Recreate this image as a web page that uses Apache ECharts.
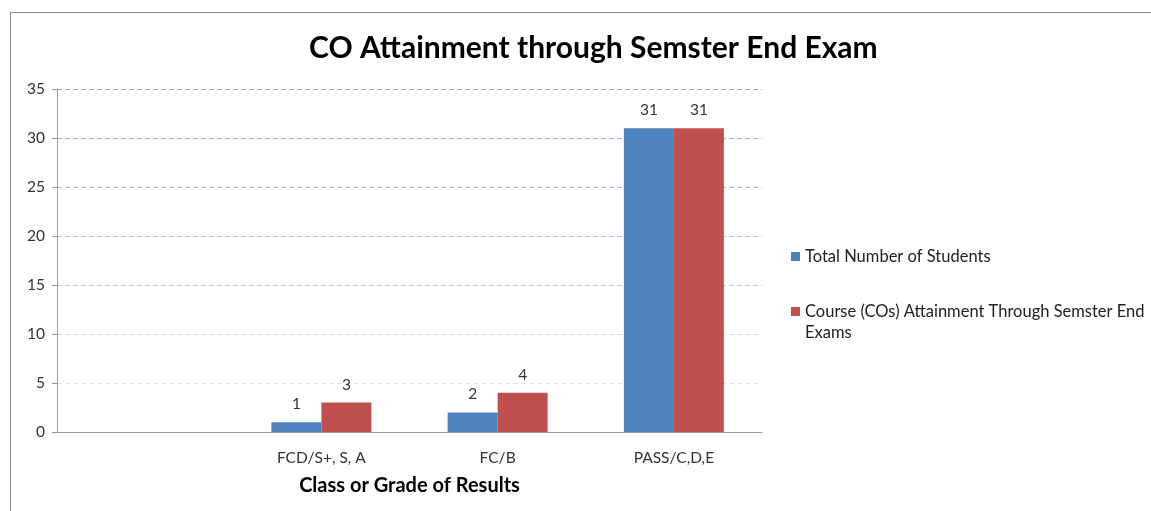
<!DOCTYPE html>
<html>
<head>
    <meta charset="utf-8">
    <title>CO Attainment</title>
    <script src="https://cdn.jsdelivr.net/npm/echarts@6/dist/echarts.min.js"></script>
    <style>
        html, body { margin: 0; padding: 0; background: #fff; }
        #frame { position: absolute; left: 10px; top: 12px; width: 1160px; height: 520px; border: 1px solid #8c8c8c; pointer-events: none; }
    </style>
</head>
<body>
    <div id="main" style="width: 1151px;height:511px;"></div>
    <div id="frame"></div>
    <script type="text/javascript">
        // chart data
        var categories = ['', 'FCD/S+, S, A', 'FC/B', 'PASS/C,D,E'];
        var totalStudents = ['-', 1, 2, 31];
        var coAttainment = ['-', 3, 4, 31];
        var seriesNames = ['Total Number of Students', 'Course (COs) Attainment Through Semster End Exams'];
        var yMin = 0, yMax = 35, yStep = 5;

        var font = 'Lato, "Open Sans", sans-serif';
        var myChart = echarts.init(document.getElementById('main'));

        var option = {
            animation: false,
            textStyle: { fontFamily: font },
            title: {
                text: 'CO Attainment through Semster End Exam',
                left: 304,
                top: 28,
                textStyle: { fontSize: 30, fontWeight: 'bold', color: '#000', fontFamily: font }
            },
            legend: {
                orient: 'vertical',
                left: 786,
                top: 241,
                itemGap: 13,
                itemWidth: 9,
                itemHeight: 9,
                icon: 'rect',
                data: seriesNames,
                formatter: function (name) {
                    // wrapped entry: a blank first line keeps the icon level with "Course..."
                    return name === seriesNames[1] ? '\nCourse (COs) Attainment Through Semster End\nExams' : name;
                },
                textStyle: { fontSize: 16.5, color: '#222', lineHeight: 21 }
            },
            grid: {
                left: 57,
                right: 389,
                top: 89,
                bottom: 79
            },
            xAxis: {
                type: 'category',
                data: categories,
                name: 'Class or Grade of Results',
                nameLocation: 'middle',
                nameGap: 44,
                nameTextStyle: { fontSize: 20, fontWeight: 'bold', color: '#000' },
                axisLine: { lineStyle: { color: '#9a9a9a' } },
                axisTick: { show: false },
                axisLabel: { fontSize: 15.5, color: '#333', margin: 18 }
            },
            yAxis: {
                type: 'value',
                min: yMin,
                max: yMax,
                interval: yStep,
                axisLine: { show: true, lineStyle: { color: '#9a9a9a' } },
                axisTick: { show: true, length: 5, lineStyle: { color: '#9a9a9a' } },
                axisLabel: { fontSize: 15.5, color: '#333', margin: 12 },
                splitLine: {
                    lineStyle: {
                        type: [5, 3],
                        color: ['#e3e9f5', '#dce3f3', '#d0daef', '#c2cfeb', '#b3c4e6', '#a5b9e1', '#98afdd', '#8aa4d8']
                    }
                }
            },
            series: [
                {
                    name: seriesNames[0],
                    type: 'bar',
                    data: totalStudents,
                    barGap: '0%',
                    barWidth: 50,
                    itemStyle: { color: '#4f81bd' },
                    label: { show: true, position: 'top', distance: 10, fontSize: 15.5, color: '#333' }
                },
                {
                    name: seriesNames[1],
                    type: 'bar',
                    data: coAttainment,
                    barWidth: 50,
                    itemStyle: { color: '#c0504d' },
                    label: { show: true, position: 'top', distance: 10, fontSize: 15.5, color: '#333' }
                }
            ]
        };

        myChart.setOption(option);
    </script>
</body>
</html>
